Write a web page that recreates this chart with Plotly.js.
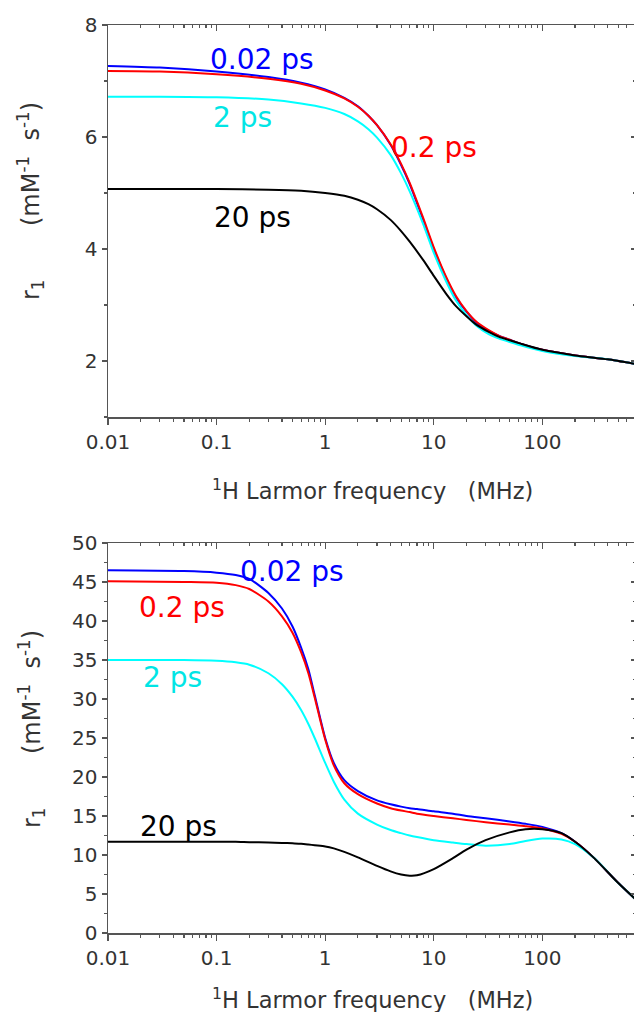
<!DOCTYPE html>
<html><head><meta charset="utf-8">
<script src="https://cdn.plot.ly/plotly-3.0.1.min.js"></script>
<style>html,body{margin:0;padding:0;overflow:hidden;background:#fff;}</style>
</head><body>
<div id="chart" style="width:660px;height:1012px;"></div>
<script>
// ---- data ----
const freqTop = [0.01, 0.03, 0.1, 0.3, 0.6, 1, 1.5, 2, 2.5, 3, 4, 5, 6, 8, 10, 13, 16, 20, 25, 32, 40, 50, 63, 100, 200, 400, 750];
const top002 = [7.27, 7.24, 7.17, 7.07, 6.97, 6.85, 6.70, 6.55, 6.38, 6.21, 5.86, 5.50, 5.16, 4.52, 4.00, 3.48, 3.14, 2.88, 2.68, 2.54, 2.45, 2.38, 2.31, 2.20, 2.10, 2.03, 1.94];
const top02  = [7.18, 7.17, 7.12, 7.04, 6.95, 6.83, 6.69, 6.54, 6.38, 6.21, 5.87, 5.52, 5.18, 4.55, 4.03, 3.50, 3.16, 2.89, 2.69, 2.55, 2.45, 2.38, 2.31, 2.20, 2.10, 2.03, 1.94];
const top2   = [6.72, 6.72, 6.71, 6.67, 6.60, 6.52, 6.41, 6.28, 6.14, 5.99, 5.68, 5.35, 5.03, 4.44, 3.93, 3.42, 3.08, 2.82, 2.62, 2.48, 2.40, 2.34, 2.28, 2.18, 2.09, 2.03, 1.94];
const top20  = [5.07, 5.07, 5.07, 5.06, 5.04, 5.00, 4.95, 4.88, 4.80, 4.71, 4.52, 4.32, 4.13, 3.80, 3.52, 3.20, 2.98, 2.80, 2.64, 2.52, 2.43, 2.37, 2.31, 2.20, 2.10, 2.03, 1.94];

const freqBot = [0.01, 0.05, 0.1, 0.15, 0.2, 0.3, 0.4, 0.5, 0.6, 0.7, 0.8, 1, 1.2, 1.5, 2, 3, 4, 5, 6, 7, 10, 15, 20, 30, 50, 70, 100, 150, 200, 300, 500, 750];
const bot002 = [46.5, 46.4, 46.2, 45.9, 45.4, 43.6, 41.6, 39.3, 36.6, 33.8, 30.5, 25.0, 21.8, 19.6, 18.2, 17.0, 16.5, 16.2, 16.0, 15.9, 15.6, 15.3, 15.0, 14.7, 14.3, 14.0, 13.6, 12.8, 11.7, 9.6, 6.4, 4.1];
const bot02  = [45.1, 45.0, 44.9, 44.6, 44.1, 42.5, 40.6, 38.5, 36.0, 33.3, 30.2, 24.8, 21.5, 19.2, 17.8, 16.6, 16.0, 15.7, 15.5, 15.3, 15.0, 14.7, 14.5, 14.2, 13.9, 13.7, 13.4, 12.7, 11.7, 9.6, 6.4, 4.1];
const bot2   = [35.0, 35.0, 34.9, 34.7, 34.4, 33.3, 31.9, 30.3, 28.6, 26.8, 25.0, 21.8, 19.4, 17.1, 15.3, 13.9, 13.2, 12.8, 12.5, 12.3, 11.9, 11.6, 11.4, 11.2, 11.4, 11.8, 12.1, 12.0, 11.4, 9.6, 6.4, 4.1];
const bot20  = [11.7, 11.7, 11.7, 11.7, 11.65, 11.6, 11.55, 11.5, 11.45, 11.35, 11.25, 11.1, 10.85, 10.4, 9.7, 8.6, 7.9, 7.5, 7.35, 7.4, 8.2, 9.6, 10.7, 11.9, 12.9, 13.3, 13.3, 12.8, 11.7, 9.6, 6.4, 4.1];

const seriesNames = ["0.02 ps", "0.2 ps", "2 ps", "20 ps"];
const seriesColors = ["#0000ff", "#ff0000", "#00ffff", "#000000"];

const xMajor = [0.01, 0.1, 1, 10, 100];
const xMajorText = ["0.01", "0.1", "1", "10", "100"];
const yTopTicks = [2, 4, 6, 8];
const yTopMinor = [1, 3, 5, 7];
const yBotTicks = [0, 5, 10, 15, 20, 25, 30, 35, 40, 45, 50];
const yBotMinor = [2.5, 7.5, 12.5, 17.5, 22.5, 27.5, 32.5, 37.5, 42.5, 47.5];

const xTitle = "<sup>1</sup>H Larmor frequency\u00a0\u00a0\u00a0(MHz)";
const yTitle = "r<sub>1</sub>\u00a0\u00a0\u00a0\u00a0\u00a0\u00a0\u00a0(mM<sup>-1</sup>\u00a0\u00a0s<sup>-1</sup>)";

// minor x ticks 2..9 per decade
const xMinor = [];
for (let d = -2; d <= 2; d++) for (let m = 2; m <= 9; m++) xMinor.push(m * Math.pow(10, d));

const FONT = "DejaVu Sans, Liberation Sans, Arial, sans-serif";
const AX = "#555";
const xRange = [-2, 2.862];

const traces = [];
const topSets = [top002, top02, top2, top20];
const botSets = [bot002, bot02, bot2, bot20];
topSets.forEach((ys, i) => traces.push({x: freqTop, y: ys, xaxis: "x", yaxis: "y", mode: "lines",
  line: {color: seriesColors[i], width: 2, shape: "spline", smoothing: 0.6}, name: seriesNames[i], showlegend: false, hoverinfo: "skip"}));
botSets.forEach((ys, i) => traces.push({x: freqBot, y: ys, xaxis: "x2", yaxis: "y2", mode: "lines",
  line: {color: seriesColors[i], width: 2, shape: "spline", smoothing: 0.7}, name: seriesNames[i], showlegend: false, hoverinfo: "skip"}));
// empty helper traces so that the mirrored (top / right) axes get drawn
[["x3", "y"], ["x", "y3"], ["x4", "y2"], ["x2", "y4"]].forEach(p => traces.push({x: [null], y: [null], xaxis: p[0], yaxis: p[1],
  mode: "lines", showlegend: false, hoverinfo: "skip"}));

function xMain(anchor) {
  return {type: "log", range: xRange, anchor: anchor, domain: [0, 1], showgrid: false, zeroline: false,
    showline: true, linecolor: AX, linewidth: 1.5, ticks: "outside", ticklen: 6, tickwidth: 1.3, tickcolor: AX,
    tickmode: "array", tickvals: xMajor, ticktext: xMajorText, tickfont: {family: FONT, size: 20, color: "#333"},
    minor: {tickmode: "array", tickvals: xMinor, ticks: "outside", ticklen: 3, tickwidth: 1.2, tickcolor: AX, showgrid: false}};
}
function xMirror(over, anchor) {
  return {type: "log", range: xRange, overlaying: over, anchor: anchor, side: "top", showgrid: false, zeroline: false,
    showline: true, linecolor: AX, linewidth: 1.5, ticks: "inside", ticklen: 6, tickwidth: 1.3, tickcolor: AX,
    tickmode: "array", tickvals: xMajor, showticklabels: false,
    minor: {tickmode: "array", tickvals: xMinor, ticks: "inside", ticklen: 3, tickwidth: 1.2, tickcolor: AX, showgrid: false}};
}
function yMain(anchor, dom, rng, tv, mv) {
  return {range: rng, anchor: anchor, domain: dom, showgrid: false, zeroline: false,
    showline: true, linecolor: AX, linewidth: 1.5, ticks: "outside", ticklen: 5, tickwidth: 1.3, tickcolor: AX,
    tickmode: "array", tickvals: tv, tickfont: {family: FONT, size: 20, color: "#333"},
    minor: {tickmode: "array", tickvals: mv, ticks: "outside", ticklen: 3, tickwidth: 1.2, tickcolor: AX, showgrid: false}};
}
function yMirror(over, anchor, rng, tv, mv) {
  return {range: rng, overlaying: over, anchor: anchor, side: "right", showgrid: false, zeroline: false,
    showline: true, linecolor: AX, linewidth: 1.5, ticks: "inside", ticklen: 5, tickwidth: 1.3, tickcolor: AX,
    tickmode: "array", tickvals: tv, showticklabels: false,
    minor: {tickmode: "array", tickvals: mv, ticks: "inside", ticklen: 3, tickwidth: 1.2, tickcolor: AX, showgrid: false}};
}

const H = 1012;
const topDom = [1 - 417 / H, 1 - 25 / H];
const botDom = [1 - 933 / H, 1 - 543 / H];
const lg = v => Math.log10(v);

function lab(text, xv, yv, xr, yr, color) {
  return {text: text, x: lg(xv), y: yv, xref: xr, yref: yr, showarrow: false, xanchor: "center", yanchor: "middle",
    font: {family: FONT, size: 28, color: color}};
}

const layout = {
  width: 660, height: H, margin: {l: 108, r: 24, t: 0, b: 0},
  paper_bgcolor: "#fff", plot_bgcolor: "#fff", showlegend: false,
  xaxis: xMain("y"), yaxis: yMain("x", topDom, [1, 8], yTopTicks, yTopMinor),
  xaxis3: xMirror("x", "y"), yaxis3: yMirror("y", "x", [1, 8], yTopTicks, yTopMinor),
  xaxis2: xMain("y2"), yaxis2: yMain("x2", botDom, [0, 50], yBotTicks, yBotMinor),
  xaxis4: xMirror("x2", "y2"), yaxis4: yMirror("y2", "x2", [0, 50], yBotTicks, yBotMinor),
  annotations: [
    lab(seriesNames[0], 0.262, 7.39, "x", "y", seriesColors[0]),
    lab(seriesNames[2], 0.172, 6.34, "x", "y", "#00e5e5"),
    lab(seriesNames[1], 10.1, 5.82, "x", "y", seriesColors[1]),
    lab(seriesNames[3], 0.212, 4.57, "x", "y", seriesColors[3]),
    lab(seriesNames[0], 0.49, 46.3, "x2", "y2", seriesColors[0]),
    lab(seriesNames[1], 0.048, 41.7, "x2", "y2", seriesColors[1]),
    lab(seriesNames[2], 0.039, 32.8, "x2", "y2", "#00e5e5"),
    lab(seriesNames[3], 0.045, 13.6, "x2", "y2", seriesColors[3]),
    {text: xTitle, xref: "paper", yref: "paper", x: 0.5, y: 1 - 489 / H, showarrow: false, xanchor: "center", yanchor: "middle",
      font: {family: FONT, size: 22.5, color: "#333"}},
    {text: xTitle, xref: "paper", yref: "paper", x: 0.5, y: 1 - 998 / H, showarrow: false, xanchor: "center", yanchor: "middle",
      font: {family: FONT, size: 22.5, color: "#333"}},
    {text: yTitle, xref: "paper", yref: "paper", x: -(108 - 31) / 528, xanchor: "center", y: 1 - 201 / H, yanchor: "middle",
      textangle: -90, showarrow: false, font: {family: FONT, size: 24, color: "#333"}},
    {text: yTitle, xref: "paper", yref: "paper", x: -(108 - 31) / 528, xanchor: "center", y: 1 - 729 / H, yanchor: "middle",
      textangle: -90, showarrow: false, font: {family: FONT, size: 24, color: "#333"}}
  ]
};

Plotly.newPlot("chart", traces, layout, {staticPlot: true, displayModeBar: false});
</script>
</body></html>
